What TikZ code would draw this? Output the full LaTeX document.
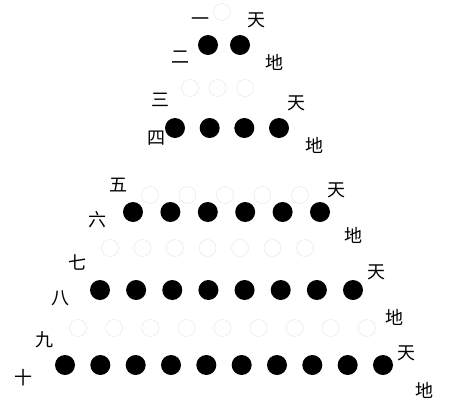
\documentclass[tikz,border=0pt]{standalone}
\usepackage{fontspec}
\newfontfamily\cjk{Noto Sans CJK SC}
\usetikzlibrary{positioning}

\begin{document}
\begin{tikzpicture}[x=1pt,y=-1pt,
  di/.style={shape=circle,fill=black,minimum size=20pt,inner sep=0pt},
  tian/.style={shape=circle,draw=gray!22,thin,minimum size=17pt,inner sep=0pt},
  zi/.style={font=\cjk\fontsize{18}{18}\selectfont,inner sep=0pt}]
\useasboundingbox (0,0) rectangle (453,405);
% heaven: open circles
\node[tian](t1-1) at (222,12){};
\foreach \n/\xa/\xb/\y in {3/190/245/88,5/150/300/195,7/110/305/248,9/78/367/328}
  \foreach \i in {1,...,\n}
    \node[tian](t\n-\i) at ({\xa+(\i-1)*(\xb-\xa)/(\n-1)},\y){};
% earth: filled dots
\foreach \n/\xa/\xb/\y in {2/208/240/45,4/175/279/128,6/133/320/212,8/100/353/290,10/65/383/365}
  \foreach \i in {1,...,\n}
    \node[di](d\n-\i) at ({\xa+(\i-1)*(\xb-\xa)/(\n-1)},\y){};
% numbers
\node[zi](n1) at (200,22){一};
\node[zi](n2) at (180,57){二};
\node[zi](n3) at (160,100){三};
\node[zi](n4) at (156,138){四};
\node[zi](n5) at (118,185){五};
\node[zi](n6) at (97,220){六};
\node[zi](n7) at (77,262){七};
\node[zi](n8) at (60,298){八};
\node[zi](n9) at (44,340){九};
\node[zi](n10) at (24,378){十};
% heaven and earth
\node[zi](k1) at (256,20){天};
\node[zi](k2) at (274,62){地};
\node[zi](k3) at (296,103){天};
\node[zi](k4) at (314,145){地};
\node[zi](k5) at (336,190){天};
\node[zi](k6) at (353,235){地};
\node[zi](k7) at (376,272){天};
\node[zi](k8) at (394,317){地};
\node[zi](k9) at (406,353){天};
\node[zi](k10) at (424,390){地};
\end{tikzpicture}
\end{document}
